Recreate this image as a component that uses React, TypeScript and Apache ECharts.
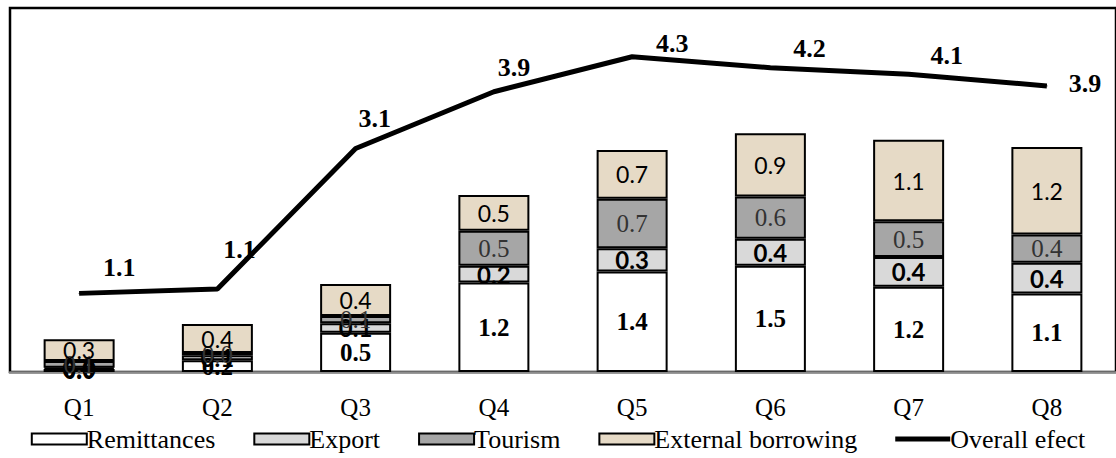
import React, { useEffect, useRef } from "react";
import * as echarts from "echarts";

const categories = ["Q1", "Q2", "Q3", "Q4", "Q5", "Q6", "Q7", "Q8"];
const remittances = [0.04, 0.16, 0.54, 1.23, 1.38, 1.46, 1.17, 1.08];
const exportVals = [0.02, 0.07, 0.13, 0.23, 0.32, 0.37, 0.41, 0.42];
const tourism = [0.09, 0.03, 0.1, 0.48, 0.68, 0.58, 0.49, 0.39];
const borrowing = [0.3, 0.4, 0.44, 0.49, 0.67, 0.87, 1.12, 1.2];
const overall = [1.08, 1.14, 3.07, 3.85, 4.33, 4.18, 4.09, 3.93];

const lineLabelOffsets = [
  [40, -12],
  [22, -26],
  [19, -17],
  [20, -11],
  [40, 0],
  [39, -6],
  [38, -5],
  [38, 11],
];

const SERIF = "'Liberation Serif', 'Times New Roman', serif";
const SANS = "Lato, 'Liberation Sans', sans-serif";

export default function App() {
  const ref = useRef<HTMLDivElement>(null);
  useEffect(() => {
    if (!ref.current) return;
    const chart = echarts.init(ref.current, undefined, { renderer: "svg" });
    const fmt = (p: any) => Number(p.value).toFixed(1);
    const barBase = {
      type: "bar",
      stack: "total",
      barWidth: 71,
      itemStyle: { borderColor: "#000", borderWidth: 2 },
    };
    chart.setOption({
      animation: false,
      backgroundColor: "#fff",
      grid: {
        left: 10,
        top: 8,
        width: 1112,
        height: 364,
        show: true,
        borderColor: "#000",
        borderWidth: 2.5,
        backgroundColor: "transparent",
      },
      legend: {
        bottom: 1,
        left: "center",
        itemWidth: 55,
        itemHeight: 11,
        itemGap: 38,
        symbolKeepAspect: true,
        textStyle: { fontFamily: SERIF, fontSize: 26, color: "#000", padding: [0, 0, 0, -5] },
        data: [
          { name: "Remittances", icon: "rect" },
          { name: "Export", icon: "rect" },
          { name: "Tourism", icon: "rect" },
          { name: "External borrowing", icon: "rect" },
          { name: "Overall efect", icon: "path://M0,0H56V5H0Z" },
        ],
      },
      xAxis: {
        type: "category",
        data: categories,
        axisLine: { lineStyle: { color: "#8c8c8c", width: 2.5 } },
        axisTick: { show: false },
        axisLabel: { fontFamily: SERIF, fontSize: 25, color: "#000", margin: 23 },
      },
      yAxis: {
        type: "value",
        min: 0,
        max: 5,
        show: false,
        splitLine: { show: false },
      },
      series: [
        {
          ...barBase,
          name: "Remittances",
          data: remittances,
          itemStyle: { ...barBase.itemStyle, color: "#ffffff" },
          label: {
            show: true,
            position: "inside",
            formatter: fmt,
            fontFamily: SERIF,
            fontWeight: "bold",
            fontSize: 25,
            color: "#000",
          },
        },
        {
          ...barBase,
          name: "Export",
          data: exportVals,
          itemStyle: { ...barBase.itemStyle, color: "#d9d9d9" },
          label: {
            show: true,
            position: "inside",
            formatter: fmt,
            fontFamily: SANS,
            fontWeight: "bold",
            fontSize: 24,
            color: "#000",
          },
        },
        {
          ...barBase,
          name: "Tourism",
          data: tourism,
          itemStyle: { ...barBase.itemStyle, color: "#a6a6a6" },
          label: {
            show: true,
            position: "inside",
            formatter: fmt,
            fontFamily: SERIF,
            fontSize: 25,
            color: "#333",
          },
        },
        {
          ...barBase,
          name: "External borrowing",
          data: borrowing,
          itemStyle: { ...barBase.itemStyle, color: "#e6dac6" },
          label: {
            show: true,
            position: "inside",
            formatter: fmt,
            fontFamily: SANS,
            fontSize: 23,
            color: "#000",
          },
        },
        {
          type: "line",
          name: "Overall efect",
          data: overall.map((v, i) => ({
            value: v,
            label: { offset: lineLabelOffsets[i] },
          })),
          symbol: "circle",
          symbolSize: 1,
          showSymbol: true,
          lineStyle: { color: "#000", width: 5 },
          itemStyle: { color: "#000" },
          label: {
            show: true,
            position: "top",
            distance: 0,
            formatter: fmt,
            fontFamily: SERIF,
            fontWeight: "bold",
            fontSize: 26,
            color: "#000",
          },
          z: 5,
        },
      ],
    });
    return () => chart.dispose();
  }, []);
  return (
    <div
      ref={ref}
      style={{ position: "fixed", left: 0, top: 0, width: 1116, height: 458 }}
    />
  );
}
